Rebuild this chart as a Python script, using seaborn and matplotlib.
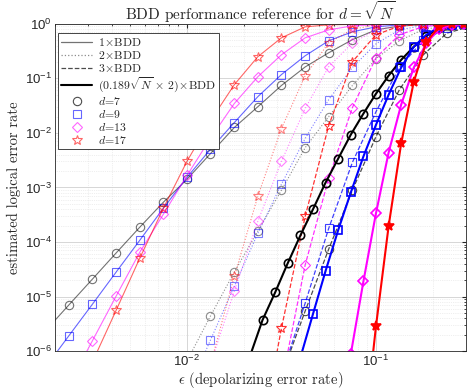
import numpy as np
import pandas as pd
import seaborn as sns
import matplotlib.pyplot as plt
from matplotlib.lines import Line2D
from matplotlib.ticker import LogLocator, NullFormatter

# epsilon grids (8 per decade for 1x/2x/3x BDD, 15 per decade for scaled BDD)
eps_a = [0.00178, 0.00237, 0.00316, 0.00422, 0.00562, 0.0075, 0.01, 0.0133, 0.0178,
         0.0237, 0.0316, 0.0422, 0.0562, 0.075, 0.1, 0.133, 0.178, 0.237, 0.316]
eps_b = [0.0215, 0.0251, 0.0293, 0.0341, 0.0398, 0.0464, 0.0541, 0.0631, 0.0736,
         0.0858, 0.1, 0.1166, 0.1359, 0.1585, 0.1848, 0.2154, 0.2512, 0.2929]

# log10 of logical error rate
bdd1_d7 = [-5.63, -5.155, -4.68, -4.20, -3.73, -3.27, -2.85, -2.38, -1.90, -1.52,
           -1.13, -0.79, -0.53, -0.29, -0.11, -0.04, -0.015, -0.005, 0.0]
bdd1_d9 = [-6.3, -5.72, -5.14, -4.55, -3.97, -3.38, -2.815, -2.30, -1.81, -1.335,
           -0.93, -0.585, -0.31, -0.146, -0.055, -0.018, -0.005, 0.0, 0.0]
bdd1_d13 = [-6.62, -5.81, -4.99, -4.19, -3.49, -2.78, -2.10, -1.46, -0.97, -0.567,
            -0.256, -0.11, -0.037, -0.018, -0.005, 0.0, 0.0, 0.0]
bdd1_d17 = [-6.2, -5.25, -4.30, -3.38, -2.52, -1.78, -1.115, -0.603, -0.256, -0.055,
            -0.018, -0.01, 0.0, 0.0, 0.0, 0.0, 0.0]

bdd2_d7 = [-6.18, -5.36, -4.55, -3.80, -3.05, -2.27, -1.70, -1.13, -0.64, -0.31,
           -0.10, -0.04, -0.01]
bdd2_d9 = [-6.78, -5.80, -4.81, -3.84, -2.94, -2.10, -1.39, -0.80, -0.366, -0.11,
           -0.03, -0.01, 0.0]
bdd2_d13 = [-6.25, -4.90, -3.62, -2.52, -1.55, -0.786, -0.35, -0.11, -0.03, -0.01, 0.0, 0.0]
bdd2_d17 = [-6.25, -4.63, -3.16, -1.92, -0.95, -0.347, -0.1, -0.02, 0.0, 0.0, 0.0, 0.0]

bdd3_d7 = [-6.45, -5.265, -4.13, -3.05, -2.066, -1.207, -0.567, -0.17, -0.05]
bdd3_d9 = [-6.45, -5.12, -3.75, -2.54, -1.61, -0.8, -0.3, -0.08, -0.02]
bdd3_d13 = [-6.6, -4.42, -2.83, -1.536, -0.62, -0.2, -0.05, -0.01, 0.0]
bdd3_d17 = [-7.9, -5.58, -3.53, -1.865, -0.695, -0.2, -0.04, -0.01, 0.0, 0.0]

scl_d7 = [-6.1, -5.43, -4.92, -4.39, -3.88, -3.40, -2.91, -2.47, -2.03, -1.645,
          -1.28, -0.95, -0.66, -0.42, -0.22, -0.08, -0.02, 0.0]
scl_d9 = [-6.12, -5.32, -4.53, -3.78, -3.09, -2.43, -1.85, -1.3, -0.8, -0.42,
          -0.2, -0.06, -0.02, 0.0]
scl_d13 = [-6.05, -4.72, -3.47, -2.36, -1.48, -0.8, -0.35, -0.1, -0.02, 0.0]
scl_d17 = [-7.64, -5.54, -3.71, -2.19, -1.06, -0.33, -0.055, -0.0, 0.0]

dists = ['d=7', 'd=9', 'd=13', 'd=17']
colors = ['#000000', '#0000ff', '#ff00ff', '#ff0000']
markers = ['o', 's', 'D', '*']
msizes = [6, 5.5, 5, 7.5]

sns.set_style('white')
plt.rcParams['mathtext.fontset'] = 'cm'
plt.rcParams['font.family'] = ['Liberation Sans', 'DejaVu Sans']
serif = ['cmr10', 'DejaVu Serif']

fig = plt.figure(figsize=(4.69, 3.91), dpi=100)
ax = fig.add_axes([0.117, 0.102, 0.877, 0.837])


def draw(eps, vals, i, ls, lw, alpha, filled=False, mew=0.8):
    df = pd.DataFrame({'eps': eps[:len(vals)], 'p': np.power(10.0, vals)})
    sns.lineplot(data=df, x='eps', y='p', ax=ax, color=colors[i], linestyle=ls,
                 lw=lw, alpha=alpha, marker=markers[i], markersize=msizes[i],
                 markerfacecolor=colors[i] if filled else 'none',
                 markeredgecolor=colors[i], markeredgewidth=mew,
                 estimator=None, sort=False)


# 1x BDD (thin solid)
draw(eps_a, bdd1_d7, 0, '-', 0.8, 0.55)
draw(eps_a, bdd1_d9, 1, '-', 0.8, 0.6)
draw(eps_a[1:], bdd1_d13, 2, '-', 0.8, 0.6)
draw(eps_a[2:], bdd1_d17, 3, '-', 0.8, 0.6)
# 2x BDD (dotted)
draw(eps_a[6:], bdd2_d7, 0, ':', 0.8, 0.45)
draw(eps_a[6:], bdd2_d9, 1, ':', 0.8, 0.5)
draw(eps_a[7:], bdd2_d13, 2, ':', 0.8, 0.5)
draw(eps_a[7:], bdd2_d17, 3, ':', 0.8, 0.5)
# 3x BDD (dashed)
draw(eps_a[10:], bdd3_d7, 0, '--', 0.9, 0.7)
draw(eps_a[10:], bdd3_d9, 1, '--', 0.9, 0.75)
draw(eps_a[10:], bdd3_d13, 2, '--', 0.9, 0.8)
draw(eps_a[9:], bdd3_d17, 3, '--', 0.9, 0.8)
# scaled BDD (thick solid)
draw(eps_b, scl_d7, 0, '-', 1.5, 1.0, mew=1.2)
draw(eps_b[4:], scl_d9, 1, '-', 1.5, 1.0, mew=1.2)
draw(eps_b[8:], scl_d13, 2, '-', 1.5, 1.0, mew=1.2)
draw(eps_b[9:], scl_d17, 3, '-', 1.5, 1.0, filled=True, mew=1.2)

ax.set_xscale('log')
ax.set_yscale('log')
ax.set_xlim(0.002, 0.3)
ax.set_ylim(1e-6, 1)
ax.set_xticks([0.01, 0.1])
ax.set_yticks([1e-6, 1e-5, 1e-4, 1e-3, 1e-2, 1e-1, 1])
ax.xaxis.set_minor_locator(LogLocator(base=10, subs=np.arange(2, 10), numticks=20))
ax.yaxis.set_minor_locator(LogLocator(base=10, subs=np.arange(2, 10), numticks=20))
ax.xaxis.set_minor_formatter(NullFormatter())
ax.yaxis.set_minor_formatter(NullFormatter())
ax.grid(True, which='major', color='#d0d0d0', lw=0.6)
ax.grid(True, which='minor', color='#e0e0e0', lw=0.5, ls=':')
ax.set_axisbelow(True)
ax.tick_params(which='both', direction='in', top=True, right=True, labelsize=9.5,
               colors='#262626', pad=2)
ax.tick_params(which='major', length=3)
ax.tick_params(which='minor', length=1.5)
for s in ax.spines.values():
    s.set_color('#262626')
    s.set_linewidth(0.6)

ax.set_title(r'BDD performance reference for $d=\sqrt{N}$', family=serif,
             fontsize=11, pad=3)
ax.set_xlabel(r'$\epsilon$ (depolarizing error rate)', family=serif, fontsize=10.5,
              labelpad=1)
ax.set_ylabel('estimated logical error rate', family=serif, fontsize=10.5, labelpad=3)

handles = [
    Line2D([], [], color='#000000', alpha=0.55, lw=0.9, ls='-'),
    Line2D([], [], color='#000000', alpha=0.45, lw=0.9, ls=':'),
    Line2D([], [], color='#000000', alpha=0.7, lw=0.9, ls='--'),
    Line2D([], [], color='#000000', lw=1.5, ls='-'),
]
for i in range(4):
    handles.append(Line2D([], [], ls='none', marker=markers[i], markersize=msizes[i],
                          markerfacecolor='none', markeredgecolor=colors[i],
                          alpha=0.7 if i == 0 else 0.6, markeredgewidth=0.8))
labels = [r'$1\!\times\!$BDD', r'$2\!\times\!$BDD', r'$3\!\times\!$BDD',
          r'$(0.189\sqrt{N}\,\times\,2)\!\times\!$BDD',
          r'$d$=7', r'$d$=9', r'$d$=13', r'$d$=17']
leg = ax.legend(handles, labels, loc='upper left', bbox_to_anchor=(0.007, 0.973),
                borderaxespad=0, fancybox=False, framealpha=1, edgecolor='#262626',
                prop={'family': serif, 'size': 8.5}, labelspacing=0.08,
                handlelength=2.6, handletextpad=0.5, borderpad=0.3)
leg.get_frame().set_linewidth(0.6)

fig.savefig('out.png', dpi=100)
